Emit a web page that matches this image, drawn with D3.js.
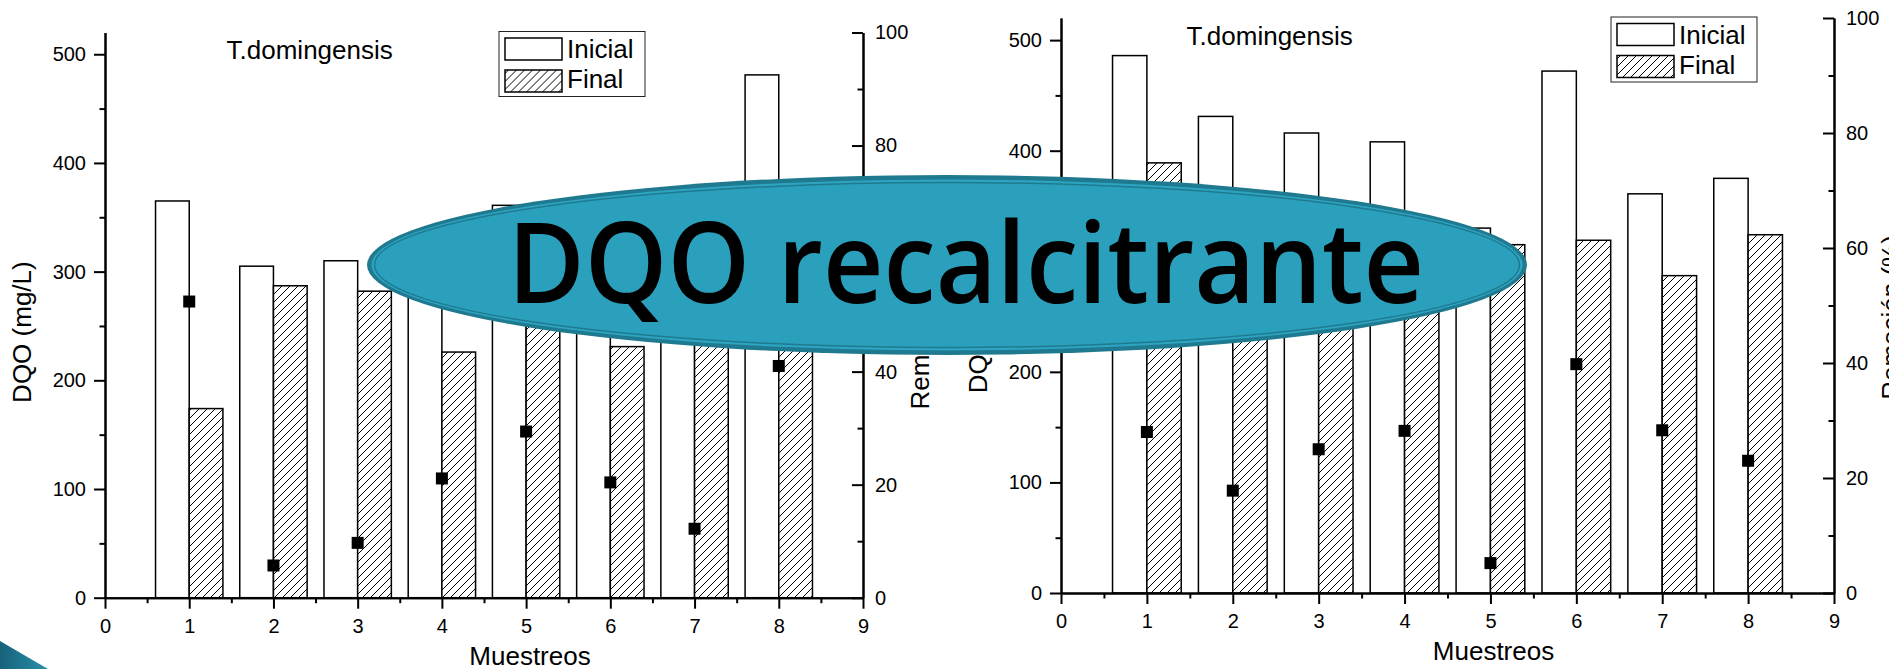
<!DOCTYPE html>
<html>
<head>
<meta charset="utf-8">
<script src="https://cdn.jsdelivr.net/npm/d3@7"></script>
<style>
body { margin: 0; background: #fff; }
svg { display: block; font-family: "Liberation Sans", Arial, sans-serif; }
</style>
</head>
<body>
<svg id="chart" width="1889" height="669"></svg>
<script>
// values (bars hidden by the banner are estimates)
const muestreos = [1, 2, 3, 4, 5, 6, 7, 8];
const xTicks = [0, 1, 2, 3, 4, 5, 6, 7, 8, 9];
const xMinor = [0.5, 1.5, 2.5, 3.5, 4.5, 5.5, 6.5, 7.5, 8.5];
const dqoTicks = [0, 100, 200, 300, 400, 500];
const dqoMinor = [50, 150, 250, 350, 450];
const remTicks = [0, 20, 40, 60, 80, 100];
const remMinor = [10, 30, 50, 70, 90];

const inicialA = [365, 305, 310, 286, 361, 290, 285, 481];
const finalA = [174, 287, 282, 226, 258, 231, 250, 284];
const remocionA = [52.4, 5.7, 9.7, 21.1, 29.4, 20.4, 12.2, 41.0];

const inicialB = [486, 431, 416, 408, 330, 472, 361, 375];
const finalB = [389, 354, 312, 293, 315, 319, 287, 324];
const remocionB = [28.0, 17.8, 25.0, 28.2, 5.2, 39.8, 28.3, 23.0];

const titulo = "T.domingensis";
const series = ["Inicial", "Final"];
const banner = "DQO recalcitrante";

const svg = d3.select("#chart");

const defs = svg.append("defs");
const hatch = defs.append("pattern")
    .attr("id", "hatch")
    .attr("patternUnits", "userSpaceOnUse")
    .attr("width", 8)
    .attr("height", 8);
hatch.append("rect").attr("width", 8).attr("height", 8).attr("fill", "#fff");
hatch.append("path")
    .attr("d", "M-2,2 l4,-4 M0,8 l8,-8 M6,10 l4,-4")
    .attr("stroke", "#000")
    .attr("stroke-width", 1);

const swooshGrad = defs.append("linearGradient")
    .attr("id", "swoosh")
    .attr("x1", 0).attr("y1", 0).attr("x2", 1).attr("y2", 0);
swooshGrad.append("stop").attr("offset", 0).attr("stop-color", "#17627a");
swooshGrad.append("stop").attr("offset", 1).attr("stop-color", "#2a8fab");

const panels = [
    {inicial: inicialA, final: finalA, remocion: remocionA,
     left: 105, right: 863, top: 32.5, bottom: 597.7, legendX: 499},
    {inicial: inicialB, final: finalB, remocion: remocionB,
     left: 1061, right: 1834, top: 18, bottom: 593, legendX: 1611}
];

function styleAxis(g, fontSize) {
    g.attr("font-family", null).attr("font-size", fontSize);
    g.selectAll("path.domain").attr("stroke", "#000").attr("stroke-width", 2);
    g.selectAll(".tick line").attr("stroke", "#000").attr("stroke-width", 2);
    g.selectAll(".tick text").attr("fill", "#000");
}

function drawPanel(p) {
    const g = svg.append("g");

    const x = d3.scaleLinear().domain([0, 9]).range([p.left, p.right]);
    const y = d3.scaleLinear().domain([0, 520]).range([p.bottom, p.top]);
    const yr = d3.scaleLinear().domain([0, 100]).range([p.bottom, p.top]);
    const bw = 0.4;

    // bars
    g.append("g").selectAll("rect")
        .data(muestreos)
        .join("rect")
        .attr("x", (d) => x(d - bw))
        .attr("y", (d, i) => y(p.inicial[i]))
        .attr("width", x(bw) - x(0))
        .attr("height", (d, i) => y(0) - y(p.inicial[i]))
        .attr("fill", "#fff")
        .attr("stroke", "#000")
        .attr("stroke-width", 1.5);

    g.append("g").selectAll("rect")
        .data(muestreos)
        .join("rect")
        .attr("x", (d) => x(d))
        .attr("y", (d, i) => y(p.final[i]))
        .attr("width", x(bw) - x(0))
        .attr("height", (d, i) => y(0) - y(p.final[i]))
        .attr("fill", "url(#hatch)")
        .attr("stroke", "#000")
        .attr("stroke-width", 1.5);

    // axes
    g.append("g")
        .attr("transform", `translate(0,${p.bottom})`)
        .call(d3.axisBottom(x).tickValues(xMinor).tickSize(5.5).tickSizeOuter(0).tickFormat(""))
        .call(styleAxis, 20);
    g.append("g")
        .attr("transform", `translate(0,${p.bottom})`)
        .call(d3.axisBottom(x).tickValues(xTicks).tickSize(11).tickSizeOuter(0).tickPadding(10))
        .call(styleAxis, 20);

    g.append("g")
        .attr("transform", `translate(${p.left},0)`)
        .call(d3.axisLeft(y).tickValues(dqoMinor).tickSize(5.5).tickSizeOuter(0).tickFormat(""))
        .call(styleAxis, 20);
    g.append("g")
        .attr("transform", `translate(${p.left},0)`)
        .call(d3.axisLeft(y).tickValues(dqoTicks).tickSize(11).tickSizeOuter(0).tickPadding(8))
        .call(styleAxis, 20);

    g.append("g")
        .attr("transform", `translate(${p.right},0)`)
        .call(d3.axisRight(yr).tickValues(remMinor).tickSize(-5.5).tickSizeOuter(0).tickFormat(""))
        .call(styleAxis, 20);
    g.append("g")
        .attr("transform", `translate(${p.right},0)`)
        .call(d3.axisRight(yr).tickValues(remTicks).tickSize(-11).tickSizeOuter(0).tickPadding(12))
        .call(styleAxis, 20);

    // removal markers
    const ms = 12;
    g.append("g").selectAll("rect")
        .data(muestreos)
        .join("rect")
        .attr("x", (d) => x(d) - ms / 2)
        .attr("y", (d, i) => yr(p.remocion[i]) - ms / 2)
        .attr("width", ms)
        .attr("height", ms)
        .attr("fill", "#000");

    // axis titles
    const mid = (p.top + p.bottom) / 2;
    g.append("text")
        .text("DQO (mg/L)")
        .attr("font-size", 26)
        .attr("text-anchor", "middle")
        .attr("transform", `translate(${p.left - 74},${mid + 17}) rotate(-90)`);
    g.append("text")
        .text("Remoción (%)")
        .attr("font-size", 26)
        .attr("text-anchor", "middle")
        .attr("transform", `translate(${p.right + 66},${mid + 12}) rotate(-90)`);
    g.append("text")
        .text("Muestreos")
        .attr("font-size", 26)
        .attr("text-anchor", "middle")
        .attr("x", (p.left + p.right) / 2 + 46)
        .attr("y", p.bottom + 67);

    g.append("text")
        .text(titulo)
        .attr("font-size", 26)
        .attr("text-anchor", "middle")
        .attr("x", x(2.43))
        .attr("y", p.top + 26.5);

    // legend
    const lg = g.append("g").attr("transform", `translate(${p.legendX},${p.top - 1})`);
    lg.append("rect")
        .attr("width", 146).attr("height", 65)
        .attr("fill", "#fff").attr("stroke", "#222").attr("stroke-width", 1);
    lg.selectAll("rect.sw")
        .data(series)
        .join("rect")
        .attr("class", "sw")
        .attr("x", 6)
        .attr("y", (d, i) => 6.5 + i * 32)
        .attr("width", 57)
        .attr("height", 22)
        .attr("fill", (d, i) => i === 0 ? "#fff" : "url(#hatch)")
        .attr("stroke", "#000")
        .attr("stroke-width", 1.5);
    lg.selectAll("text")
        .data(series)
        .join("text")
        .text((d) => d)
        .attr("font-size", 26)
        .attr("x", 68)
        .attr("y", (d, i) => 26.5 + i * 30);
}

panels.forEach(drawPanel);

// banner overlay
const bn = svg.append("g").attr("transform", "translate(947,265)");
bn.append("ellipse").attr("rx", 580).attr("ry", 90).attr("fill", "#1f7a90");
bn.append("ellipse").attr("rx", 575.5).attr("ry", 85.5).attr("fill", "#2da4c1");
bn.append("ellipse").attr("rx", 572.5).attr("ry", 82.5)
    .attr("fill", "#2ba0bd").attr("stroke", "#1f7a90").attr("stroke-width", 1.5);
bn.append("text")
    .text(banner)
    .attr("transform", "translate(19,38) scale(0.93,1)")
    .attr("text-anchor", "middle")
    .attr("font-family", "'Open Sans', 'Noto Sans', sans-serif")
    .attr("font-weight", 600)
    .attr("font-size", 113)
    .attr("fill", "#000");

// corner swoosh
svg.append("path")
    .attr("d", "M0,641 L48,669 L0,669 Z")
    .attr("fill", "url(#swoosh)");
</script>
</body>
</html>
